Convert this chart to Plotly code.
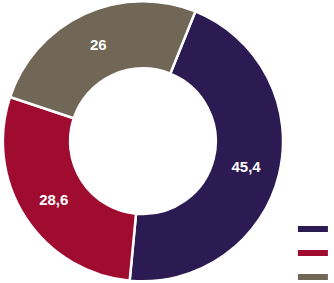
import plotly.graph_objects as go

values = [45.4, 28.6, 26]
value_labels = ["45,4", "28,6", "26"]
categories = ["Série 1", "Série 2", "Série 3"]
colors = ["#2C1B52", "#A00C30", "#706756"]

fig = go.Figure()
fig.add_trace(go.Pie(
    values=values,
    labels=categories,
    text=value_labels,
    textinfo="text",
    textposition="inside",
    insidetextorientation="horizontal",
    sort=False,
    direction="clockwise",
    rotation=22,
    hole=0.52,
    marker=dict(colors=colors, line=dict(color="white", width=2.5)),
    textfont=dict(color="white", size=15, family="Liberation Sans, Arial, sans-serif", weight="bold"),
    domain=dict(x=[0.006, 0.85], y=[0.006, 0.996]),
    showlegend=False,
))

for i, c in enumerate(colors):
    fig.add_trace(go.Scatter(
        x=[None], y=[None], mode="lines", name="",
        legendgroup=f"g{i}",
        line=dict(color=c, width=6), showlegend=True,
    ))

fig.update_layout(
    width=334, height=283,
    margin=dict(l=0, r=0, t=0, b=0, autoexpand=False),
    paper_bgcolor="white", plot_bgcolor="white",
    xaxis=dict(visible=False), yaxis=dict(visible=False),
    legend=dict(x=0.877, y=-0.03, xanchor="left", yanchor="bottom",
                font=dict(size=1, color="white"), tracegroupgap=5,
                itemwidth=30, bgcolor="rgba(0,0,0,0)"),
)
fig.write_html("out.html", config={"displayModeBar": False},
               post_script="document.body.style.margin='0';")
